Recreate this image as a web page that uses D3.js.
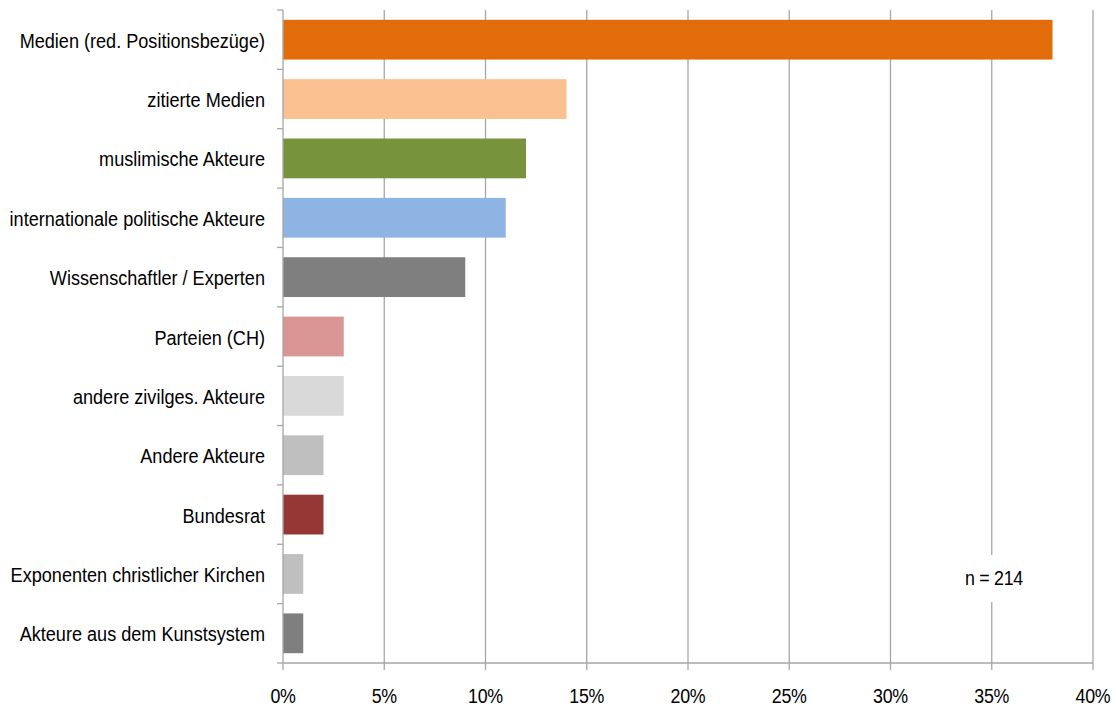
<!DOCTYPE html>
<html><head><meta charset="utf-8">
<script src="https://cdn.jsdelivr.net/npm/d3@7"></script>
<style>body{margin:0;background:#fff}text{font-family:"Liberation Sans",Arial,sans-serif;fill:#000}</style>
</head><body><svg id="c" width="1116" height="706"></svg>
<script>
const categories=["Medien (red. Positionsbezüge)","zitierte Medien","muslimische Akteure","internationale politische Akteure","Wissenschaftler / Experten","Parteien (CH)","andere zivilges. Akteure","Andere Akteure","Bundesrat","Exponenten christlicher Kirchen","Akteure aus dem Kunstsystem"];
const values=[38,14,12,11,9,3,3,2,2,1,1];
const colors=["#E36C0A","#FAC090","#77933C","#8EB4E3","#7F7F7F","#D99694","#D9D9D9","#BFBFBF","#953735","#BFBFBF","#7F7F7F"];
const xTicks=[0,5,10,15,20,25,30,35,40];
const note="n = 214";

const svg=d3.select("#c");
const L=283,R=1093,T=10,B=663;
const FS=20, SX=0.89;
const x=d3.scaleLinear().domain([0,40]).range([L,R]);
const y=d3.scaleBand().domain(categories).range([T,B]).paddingInner(0.33).paddingOuter(0.165);
const yb=d3.scaleBand().domain(categories).range([T,B]);

// gridlines
svg.append("g").selectAll("line").data(xTicks.slice(1)).join("line")
 .attr("x1",d=>x(d)).attr("x2",d=>x(d)).attr("y1",T).attr("y2",B)
 .attr("stroke","#a6a6a6").attr("stroke-width",1.3);

// bars
svg.append("g").selectAll("rect").data(values).join("rect")
 .attr("x",x(0)).attr("y",(d,i)=>y(categories[i])).attr("width",d=>x(d)-x(0))
 .attr("height",y.bandwidth()).attr("fill",(d,i)=>colors[i]);

// y axis
const gy=svg.append("g");
gy.append("line").attr("x1",L).attr("x2",L).attr("y1",T).attr("y2",B).attr("stroke","#a6a6a6").attr("stroke-width",1.3);
gy.selectAll("line.t").data(categories.concat([null])).join("line").attr("class","t")
 .attr("x1",L-6).attr("x2",L).attr("y1",(d,i)=>T+i*yb.step()).attr("y2",(d,i)=>T+i*yb.step())
 .attr("stroke","#a6a6a6").attr("stroke-width",1.3);
gy.selectAll("text").data(categories).join("text")
 .attr("transform",d=>`translate(${L-18},${yb(d)+yb.bandwidth()/2+1}) scale(0.905,1)`)
 .attr("dy","0.35em").attr("text-anchor","end").attr("font-size",FS).text(d=>d);

// x axis
const gx=svg.append("g");
gx.append("line").attr("x1",L).attr("x2",R).attr("y1",B).attr("y2",B).attr("stroke","#a6a6a6").attr("stroke-width",1.3);
gx.selectAll("line.t").data(xTicks).join("line").attr("class","t")
 .attr("x1",d=>x(d)).attr("x2",d=>x(d)).attr("y1",B).attr("y2",B+7)
 .attr("stroke","#a6a6a6").attr("stroke-width",1.3);
gx.selectAll("text").data(xTicks).join("text")
 .attr("transform",d=>`translate(${x(d)},${696}) scale(${SX},1)`).attr("dy","0.35em")
 .attr("text-anchor","middle").attr("font-size",FS).attr("letter-spacing",-0.3)
 .text(d=>d+"%");

// note
svg.append("rect").attr("x",955).attr("y",555).attr("width",75).attr("height",47).attr("fill","#fff");
svg.append("text").attr("transform",`translate(994,578) scale(${SX},1)`).attr("dy","0.35em").attr("text-anchor","middle")
 .attr("font-size",FS).attr("letter-spacing",-0.3).text(note);
</script></body></html>
